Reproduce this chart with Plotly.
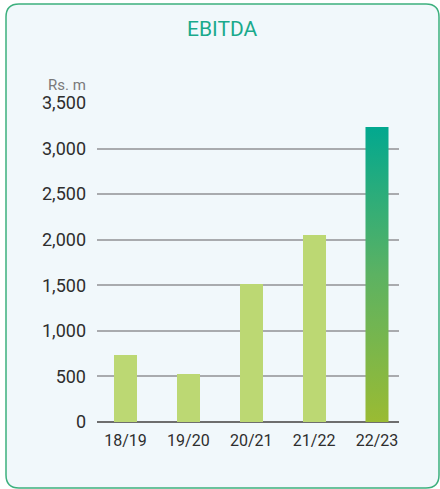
import plotly.graph_objects as go

categories = ["18/19", "19/20", "20/21", "21/22", "22/23"]
ebitda = [735, 527, 1510, 2050, 3237]
y_ticks = [0, 500, 1000, 1500, 2000, 2500, 3000, 3500]

W, H = 440, 489
bar_w = 0.366
light = "#BCD873"

def px(x):
    return x / W

def py(y):
    return 1 - y / H

xs = list(range(len(categories)))
fig = go.Figure()

# light bars
fig.add_trace(go.Bar(
    x=xs[:-1], y=ebitda[:-1], width=bar_w,
    marker=dict(color=light, line=dict(width=0)),
    hoverinfo="skip", showlegend=False,
))

# gradient bar for the latest year
i = xs[-1]
v = ebitda[-1]
fig.add_trace(go.Scatter(
    x=[i - bar_w / 2, i - bar_w / 2, i + bar_w / 2, i + bar_w / 2, i - bar_w / 2],
    y=[0, v, v, 0, 0],
    mode="lines", line=dict(width=0), fill="toself",
    fillgradient=dict(type="vertical",
                      colorscale=[[0, "#9ABB33"], [0.5, "#5CB262"], [1, "#02A88F"]]),
    hoverinfo="skip", showlegend=False,
))

# panel with rounded border
x0, y0, x1, y1, r = 6, 4, 439, 488, 13
path = (f"M {px(x0+r)},{py(y0)} L {px(x1-r)},{py(y0)} Q {px(x1)},{py(y0)} {px(x1)},{py(y0+r)} "
        f"L {px(x1)},{py(y1-r)} Q {px(x1)},{py(y1)} {px(x1-r)},{py(y1)} "
        f"L {px(x0+r)},{py(y1)} Q {px(x0)},{py(y1)} {px(x0)},{py(y1-r)} "
        f"L {px(x0)},{py(y0+r)} Q {px(x0)},{py(y0)} {px(x0+r)},{py(y0)} Z")
fig.add_shape(type="path", path=path, xref="paper", yref="paper",
              fillcolor="#F1F8FB", line=dict(color="#3DB07E", width=1.5), layer="below")

fig.add_annotation(text="EBITDA", x=px(222.5), y=py(29), xref="paper", yref="paper",
                   showarrow=False, xanchor="center", yanchor="middle",
                   font=dict(family="Roboto", size=21, color="#1AAA8C"))
fig.add_annotation(text="Rs. m", x=px(88), y=py(85), xref="paper", yref="paper",
                   showarrow=False, xanchor="right", yanchor="middle",
                   font=dict(family="Roboto", size=15, color="#7A7A7A"))

fig.update_layout(
    width=W, height=H,
    margin=dict(l=0, r=0, t=0, b=0, autoexpand=False),
    paper_bgcolor="white", plot_bgcolor="rgba(0,0,0,0)",
    bargap=0,
    xaxis=dict(domain=[px(97), px(399)], range=[-0.453, 4.35], automargin=False,
               tickvals=xs, ticktext=categories, showgrid=False, zeroline=False,
               showline=False, ticks="", ticklabelstandoff=7,
               tickfont=dict(family="Roboto", size=16, color="#2E2E2E"),
               fixedrange=True),
    yaxis=dict(domain=[py(422), py(103)], range=[0, 3500], tickvals=y_ticks, automargin=False,
               tickformat=",", showgrid=True, gridcolor="#A9ABAE", gridwidth=1.5,
               zeroline=True, zerolinecolor="#6E6E6E", zerolinewidth=2,
               showline=False, ticks="", ticklabelstandoff=10,
               tickfont=dict(family="Roboto", size=18, color="#2E2E2E"), fixedrange=True),
)

fig.write_html("out.html", config={"displayModeBar": False},
               post_script="document.body.style.margin='0';document.body.style.overflow='hidden';")
